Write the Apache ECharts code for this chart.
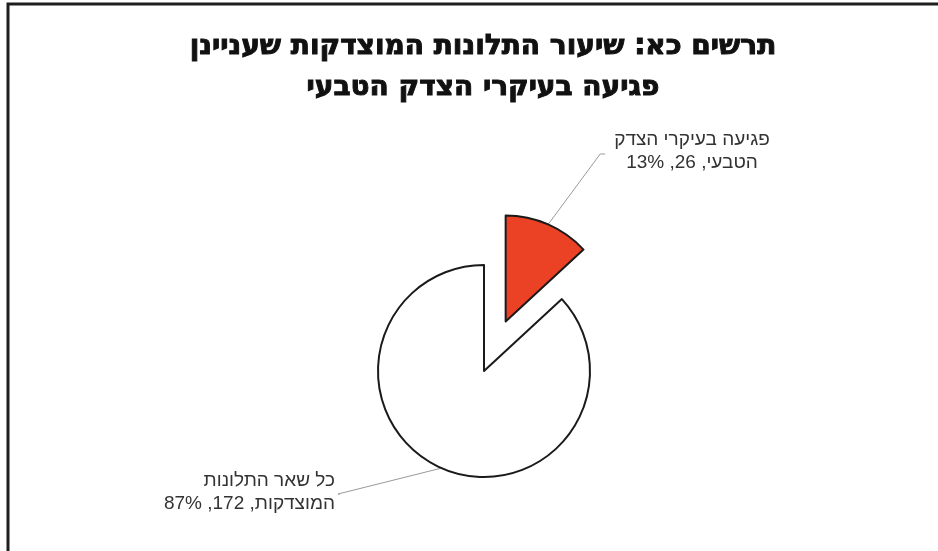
<!DOCTYPE html>
<html lang="he">
<head>
<meta charset="utf-8">
<script src="https://cdn.jsdelivr.net/npm/echarts@6/dist/echarts.min.js"></script>
<style>
  html, body { margin: 0; padding: 0; background: #ffffff; }
  #chart { width: 938px; height: 551px; }
</style>
</head>
<body>
<div id="chart" dir="rtl"></div>
<script>
// Chart title, two lines
const titleLines = ['תרשים כא: שיעור התלונות המוצדקות שעניינן', 'פגיעה בעיקרי הצדק הטבעי'];

// Slice names and their label text (first line, second line)
const categories = ['פגיעה בעיקרי הצדק הטבעי', 'כל שאר התלונות המוצדקות'];
const labelFirstLines = ['פגיעה בעיקרי הצדק', 'כל שאר התלונות'];
const labelSecondLines = ['הטבעי', 'המוצדקות'];

// Number of justified complaints in each group
const counts = [26, 172];

// Fill colour of each slice
const sliceColors = ['#EB4125', '#FFFFFF'];

const chart = echarts.init(document.getElementById('chart'), null, { renderer: 'canvas' });

// Pie geometry
const pieCenter = [484, 371];
const pieRadius = 106;
const explodeOffset = 54;
const explodedIndex = 0;

// The pulled-out slice is drawn by a second pie whose centre is moved
// along the slice's middle angle.
const total = counts.reduce(function (a, b) { return a + b; }, 0);
let before = 0;
for (let k = 0; k < explodedIndex; k++) before += counts[k];
const midDeg = 90 - ((before + counts[explodedIndex] / 2) / total) * 360;
const explodedCenter = [
  pieCenter[0] + explodeOffset * Math.cos(midDeg * Math.PI / 180),
  pieCenter[1] - explodeOffset * Math.sin(midDeg * Math.PI / 180)
];

// Label anchor per slice: [x, y, align]
const labelAnchors = [
  [692, 151, 'center'],
  [335, 492, 'right']
];

function labelLayout(params) {
  const i = params.dataIndex;
  const [ax, ay, align] = labelAnchors[i];
  const out = { x: ax, y: ay, align: align, verticalAlign: 'middle' };
  try {
    const lay = chart.getModel().getSeriesByIndex(params.seriesIndex).getData().getItemLayout(i);
    const mid = (lay.startAngle + lay.endAngle) / 2;
    const sx = lay.cx + lay.r * Math.cos(mid);
    const sy = lay.cy + lay.r * Math.sin(mid);
    const w = params.labelRect.width;
    if (align === 'center') {
      const left = ax - w / 2;
      out.labelLinePoints = [[sx, sy], [left - 14, ay + 3], [left - 9, ay + 3]];
    } else {
      out.labelLinePoints = [[sx, sy], [ax + 3, ay + 2], [ax + 5, ay + 2]];
    }
  } catch (e) { /* keep default line */ }
  return out;
}

const labelStyle = {
  show: true,
  position: 'outside',
  fontFamily: '"Liberation Sans", "DejaVu Sans", sans-serif',
  fontSize: 19,
  lineHeight: 23,
  color: '#333333',
  formatter: function (p) {
    const i = p.dataIndex;
    return labelFirstLines[i] + '\n' + labelSecondLines[i] + ', ' + p.value + ', ' + Math.round(p.percent) + '%';
  }
};

// visible = true: slice drawn with its colour, border and label;
// otherwise it only keeps its share of the circle.
function buildData(visibleFn) {
  return categories.map(function (name, i) {
    const visible = visibleFn(i);
    return {
      name: name,
      value: counts[i],
      itemStyle: visible
        ? { color: sliceColors[i], borderColor: '#1a1a1a', borderWidth: 2 }
        : { color: 'rgba(0,0,0,0)', borderWidth: 0 },
      label: { show: visible },
      labelLine: { show: visible }
    };
  });
}

function pieSeries(center, visibleFn) {
  return {
    type: 'pie',
    center: center,
    radius: pieRadius,
    startAngle: 90,
    clockwise: true,
    avoidLabelOverlap: false,
    emphasis: { disabled: true },
    label: labelStyle,
    labelLine: { show: true, lineStyle: { color: '#9a9a9a', width: 1 } },
    labelLayout: labelLayout,
    data: buildData(visibleFn)
  };
}

const option = {
  animation: false,
  backgroundColor: '#ffffff',
  graphic: [
    {
      type: 'rect',
      shape: { x: 8, y: 4, width: 1200, height: 1200 },
      style: { fill: 'none', stroke: '#1e1e1e', lineWidth: 3 },
      silent: true
    },
    {
      type: 'text',
      x: 483, y: 47,
      style: {
        text: titleLines[0],
        align: 'center', verticalAlign: 'middle',
        font: 'bold 28px "DejaVu Sans"',
        fill: '#111111', stroke: '#111111', lineWidth: 1
      }
    },
    {
      type: 'text',
      x: 483, y: 88,
      style: {
        text: titleLines[1],
        align: 'center', verticalAlign: 'middle',
        font: 'bold 28px "DejaVu Sans"',
        fill: '#111111', stroke: '#111111', lineWidth: 1
      }
    }
  ],
  series: [
    pieSeries(pieCenter, function (i) { return i !== explodedIndex; }),
    pieSeries(explodedCenter, function (i) { return i === explodedIndex; })
  ]
};

chart.setOption(option);
</script>
</body>
</html>
